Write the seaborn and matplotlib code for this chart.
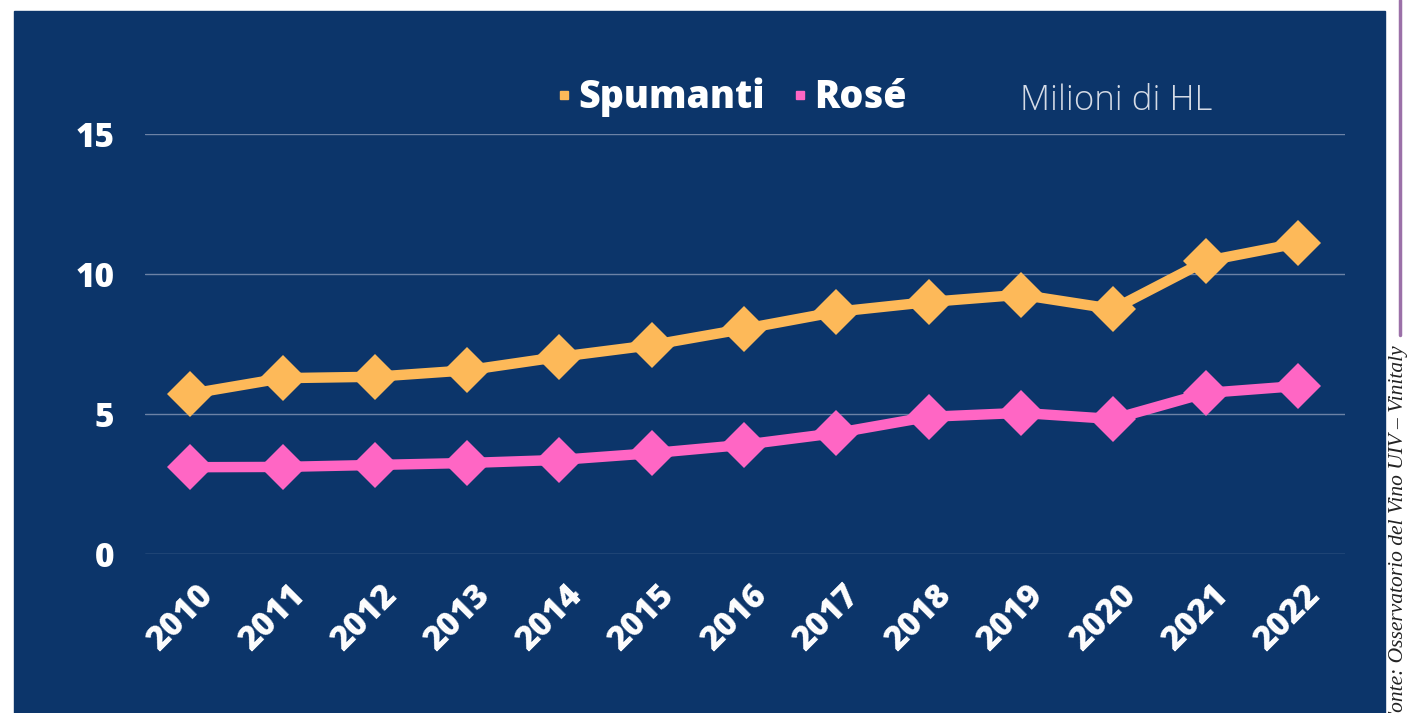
import pandas as pd
import matplotlib.pyplot as plt
import seaborn as sns
from matplotlib.lines import Line2D
from matplotlib.patches import Rectangle
from matplotlib.transforms import ScaledTranslation

years = list(range(2010, 2023))
spumanti = [5.72, 6.28, 6.33, 6.56, 7.04, 7.46, 8.04, 8.65, 9.0, 9.26, 8.75, 10.46, 11.1]
rose = [3.1, 3.11, 3.18, 3.25, 3.36, 3.6, 3.9, 4.32, 4.9, 5.04, 4.82, 5.75, 6.0]
series_names = ["Spumanti", "Rosé"]
colors = {"Spumanti": "#FDB959", "Rosé": "#FF66C4"}
navy = "#0C356A"

df = pd.DataFrame({
    "anno": years * 2,
    "valore": spumanti + rose,
    "serie": ["Spumanti"] * len(years) + ["Rosé"] * len(years),
})

sns.set_style("white")
plt.rcParams["font.family"] = ["Open Sans", "DejaVu Sans"]

fig = plt.figure(figsize=(14.07, 7.13), dpi=100, facecolor="white")
fig.patches.append(Rectangle((14 / 1407, 0), (1385 - 14) / 1407, (713 - 11) / 713,
                             transform=fig.transFigure, color=navy, zorder=-1))
ax = fig.add_axes([145 / 1407, (713 - 554) / 713, 1200 / 1407, 420 / 713])
ax.set_zorder(2)
ax.set_facecolor(navy)

sns.lineplot(data=df, x="anno", y="valore", hue="serie", style="serie",
             palette=colors, markers={"Spumanti": "D", "Rosé": "D"}, dashes=False,
             linewidth=7.5, markersize=23, markeredgewidth=0, ax=ax, legend=False)
for line in ax.lines:
    line.set_clip_on(False)

ax.set_ylim(0, 15)
ax.set_xlim(2009.51, 2022.51)
ax.set_yticks([0, 5, 10, 15])
ax.set_xticks(years)
ax.grid(axis="y", color="#6C82A6", linewidth=1)
ax.set_axisbelow(True)
ax.set_xlabel("")
ax.set_ylabel("")
for s in ax.spines.values():
    s.set_visible(False)
ax.tick_params(axis="both", length=0, colors="white", labelsize=24)
ax.tick_params(axis="y", pad=22)
ax.tick_params(axis="x", pad=46)
for lab in ax.get_yticklabels():
    lab.set_fontweight("heavy")
shift = ScaledTranslation(-0.10, 0, fig.dpi_scale_trans)
for lab in ax.get_xticklabels():
    lab.set_fontweight("heavy")
    lab.set_rotation(45)
    lab.set_ha("center")
    lab.set_va("center")
    lab.set_transform(lab.get_transform() + shift)

handles = [Line2D([], [], marker="s", linestyle="", color=colors[n], markersize=6) for n in series_names]
leg = ax.legend(handles, series_names, ncol=2, frameon=False, loc="center",
                bbox_to_anchor=((732 - 145) / 1200, (554 - 97) / 420),
                prop={"weight": "heavy", "size": 27}, labelcolor="white",
                handlelength=0.35, handletextpad=0.2, columnspacing=0.75)

fig.text(1020 / 1407, (713 - 101) / 713, "Milioni di HL", color="#D5DBE6",
         fontsize=25, fontweight="light", va="center", ha="left")

fig.add_artist(Line2D([1400 / 1407, 1400 / 1407], [1, (713 - 335) / 713],
                      transform=fig.transFigure, color="#9B70A8", linewidth=2.5))
fig.text(1399 / 1407, (713 - 345) / 713, "Fonte: Osservatorio del Vino UIV – Vinitaly",
         rotation=90, ha="center", va="top", fontsize=15.5, style="italic",
         family=["Liberation Serif", "DejaVu Serif"], color="#222222")

fig.savefig("out.png", dpi=100, facecolor="white")
